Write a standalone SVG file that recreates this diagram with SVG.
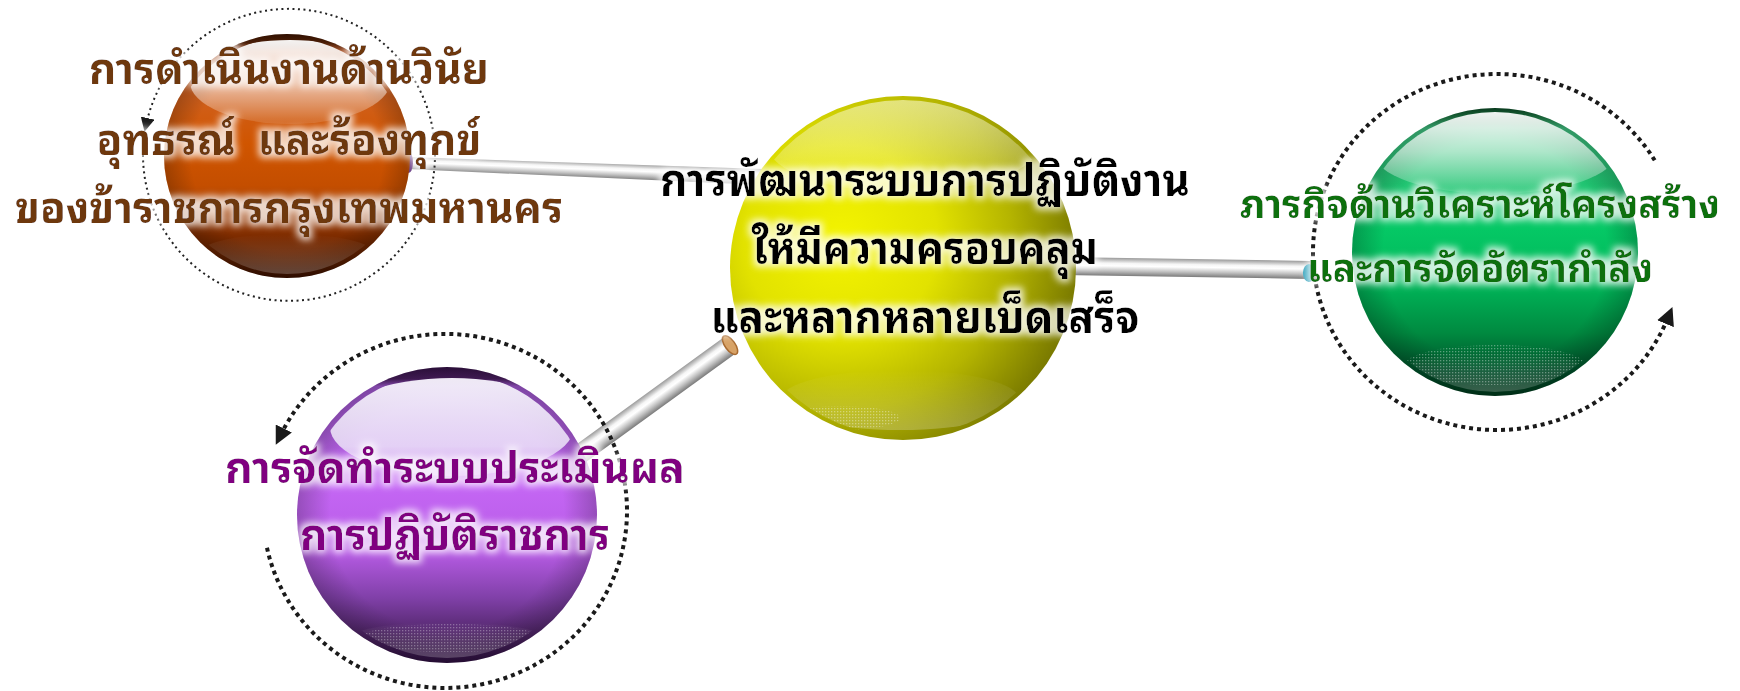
<svg xmlns="http://www.w3.org/2000/svg" width="1740" height="691" viewBox="0 0 1740 691">
<style>
.t{font-family:"Noto Sans Thai Looped","Noto Serif Thai","Noto Sans Thai","Noto Sans","DejaVu Sans",sans-serif;font-weight:bold;text-anchor:middle}
.tc{font-size:46px;fill:#000}
.to{font-size:43px;fill:#6E380C}
.tg{font-size:39px;fill:#0A700F}
.tp{font-size:43px;fill:#800080}
.dotf{fill:none;stroke:#222;stroke-width:2;stroke-dasharray:2 3.5}
.dotb{fill:none;stroke:#1a1a1a;stroke-width:4;stroke-dasharray:4 4}
</style>
<defs>
<marker id="arrS" viewBox="0 0 10 10" refX="3" refY="5" markerWidth="14" markerHeight="14" markerUnits="userSpaceOnUse" orient="auto"><path d="M0,0 L10,5 L0,10 z" fill="#1a1a1a"/></marker>
<marker id="arrL" viewBox="0 0 10 10" refX="3" refY="5" markerWidth="18" markerHeight="18" markerUnits="userSpaceOnUse" orient="auto"><path d="M0,0 L10,5 L0,10 z" fill="#1a1a1a"/></marker>
<filter id="glow" x="-10%" y="-40%" width="120%" height="180%">
<feMorphology in="SourceAlpha" operator="dilate" radius="3" result="d"/>
<feGaussianBlur in="d" stdDeviation="3.5" result="b"/>
<feFlood flood-color="#fff" flood-opacity="0.8"/>
<feComposite in2="b" operator="in" result="g"/>
<feMerge><feMergeNode in="g"/><feMergeNode in="SourceGraphic"/></feMerge>
</filter>
<clipPath id="cO"><ellipse cx="287" cy="156" rx="119" ry="118"/></clipPath>
<clipPath id="cY"><ellipse cx="903" cy="268" rx="169" ry="168"/></clipPath>
<clipPath id="cG"><ellipse cx="1495" cy="252" rx="139" ry="140"/></clipPath>
<clipPath id="cP"><ellipse cx="447" cy="515" rx="145" ry="143"/></clipPath>
<linearGradient id="tube" x1="0" y1="0" x2="0" y2="1">
<stop offset="0" stop-color="#9a9a9a"/><stop offset="0.3" stop-color="#f6f6f6"/><stop offset="0.45" stop-color="#fff"/><stop offset="0.72" stop-color="#c2c2c2"/><stop offset="1" stop-color="#7a7a7a"/>
</linearGradient>
<linearGradient id="hl" x1="0" y1="0" x2="0" y2="1">
<stop offset="0" stop-color="#fff" stop-opacity="0.95"/><stop offset="0.5" stop-color="#fff" stop-opacity="0.6"/><stop offset="1" stop-color="#fff" stop-opacity="0.1"/>
</linearGradient>
<linearGradient id="hlP" x1="0" y1="0" x2="0" y2="1">
<stop offset="0" stop-color="#f4f0fa" stop-opacity="0.97"/><stop offset="0.7" stop-color="#ece4f8" stop-opacity="0.85"/><stop offset="1" stop-color="#e6d8f6" stop-opacity="0.4"/>
</linearGradient>
<linearGradient id="hlY" x1="0" y1="0" x2="0" y2="1">
<stop offset="0" stop-color="#fafad0" stop-opacity="0.6"/><stop offset="1" stop-color="#fff" stop-opacity="0.05"/>
</linearGradient>
<radialGradient id="edge" cx="50%" cy="50%" r="50%">
<stop offset="0.78" stop-color="#000" stop-opacity="0"/><stop offset="1" stop-color="#000" stop-opacity="0.22"/>
</radialGradient>
<linearGradient id="oBase" x1="0" y1="0" x2="0" y2="1">
<stop offset="0" stop-color="#3E1400"/><stop offset="0.035" stop-color="#5A2408"/><stop offset="0.07" stop-color="#D06A38"/><stop offset="0.45" stop-color="#D05500"/><stop offset="0.62" stop-color="#C44E00"/><stop offset="0.8" stop-color="#883000"/><stop offset="0.93" stop-color="#5A1E00"/><stop offset="1" stop-color="#3A1000"/>
</linearGradient>
<radialGradient id="yBase" cx="32%" cy="42%" r="80%">
<stop offset="0" stop-color="#F4F400"/><stop offset="0.35" stop-color="#E2E200"/><stop offset="0.62" stop-color="#B4B400"/><stop offset="0.85" stop-color="#7E7E00"/><stop offset="1" stop-color="#5E5E00"/>
</radialGradient>
<linearGradient id="gBase" x1="0" y1="0" x2="0" y2="1">
<stop offset="0" stop-color="#0B4A25"/><stop offset="0.03" stop-color="#1F7A45"/><stop offset="0.07" stop-color="#40C080"/><stop offset="0.42" stop-color="#05C865"/><stop offset="0.6" stop-color="#00B85A"/><stop offset="0.78" stop-color="#008A40"/><stop offset="0.92" stop-color="#00502A"/><stop offset="1" stop-color="#003A1C"/>
</linearGradient>
<linearGradient id="pBase" x1="0" y1="0" x2="0" y2="1">
<stop offset="0" stop-color="#361248"/><stop offset="0.04" stop-color="#4A1E60"/><stop offset="0.065" stop-color="#A058D0"/><stop offset="0.4" stop-color="#C466F4"/><stop offset="0.62" stop-color="#B85CE6"/><stop offset="0.78" stop-color="#8040A8"/><stop offset="0.92" stop-color="#4A2260"/><stop offset="1" stop-color="#2E1040"/>
</linearGradient>
<linearGradient id="refl" x1="0" y1="0" x2="0" y2="1">
<stop offset="0" stop-color="#fff" stop-opacity="0"/><stop offset="1" stop-color="#fff" stop-opacity="0.22"/>
</linearGradient>
<pattern id="speck" width="3" height="3" patternUnits="userSpaceOnUse"><rect width="1.3" height="1.3" fill="#fff"/></pattern>
</defs>

<g id="connectors">
<g transform="translate(407,163) rotate(2.25)"><polygon points="0,-6 356,-8 356,8 0,6" fill="url(#tube)"/><ellipse cx="2" cy="0" rx="4" ry="10" fill="#6B3F86"/></g>
<g transform="translate(1062,266) rotate(0.92)"><rect x="0" y="-9" width="248" height="18" fill="url(#tube)"/><ellipse cx="247" cy="3" rx="6" ry="9" fill="#3BA7BF"/></g>
<g transform="translate(565,465) rotate(-36)"><rect x="0" y="-10" width="204" height="20" fill="url(#tube)"/><ellipse cx="204" cy="0" rx="5" ry="11" fill="#D7A266" stroke="#A86A30" stroke-width="1.5"/></g>
</g>

<g id="node-discipline">
<ellipse cx="287" cy="156" rx="123" ry="122" fill="url(#oBase)"/>
<ellipse cx="287" cy="156" rx="123" ry="122" fill="url(#edge)"/>
<g clip-path="url(#cO)">
<ellipse cx="290" cy="82" rx="100" ry="42" fill="url(#hl)"/>
<ellipse cx="287" cy="254" rx="88" ry="20" fill="url(#refl)"/>
</g>
<path class="dotf" d="M143,155 A146,146 0 1 0 146.7,122.2" marker-end="url(#arrS)"/>
<g filter="url(#glow)">
<text class="t to" x="289" y="84" textLength="400" lengthAdjust="spacingAndGlyphs">การดำเนินงานด้านวินัย</text>
<text class="t to" x="289" y="155" textLength="385" lengthAdjust="spacingAndGlyphs" xml:space="preserve">อุทธรณ์  และร้องทุกข์</text>
<text class="t to" x="289" y="223" textLength="548" lengthAdjust="spacingAndGlyphs">ของข้าราชการกรุงเทพมหานคร</text>
</g>
</g>

<g id="node-center">
<ellipse cx="903" cy="268" rx="173" ry="172" fill="url(#yBase)"/>
<g clip-path="url(#cY)">
<ellipse cx="903" cy="146" rx="135" ry="46" fill="url(#hlY)"/>
<ellipse cx="900" cy="400" rx="120" ry="30" fill="url(#refl)"/>
<ellipse cx="840" cy="418" rx="60" ry="12" fill="url(#speck)" opacity="0.35"/>
</g>
<g filter="url(#glow)">
<text class="t tc" x="925" y="196" textLength="530" lengthAdjust="spacingAndGlyphs">การพัฒนาระบบการปฏิบัติงาน</text>
<text class="t tc" x="925" y="264" textLength="346" lengthAdjust="spacingAndGlyphs">ให้มีความครอบคลุม</text>
<text class="t tc" x="925" y="333" textLength="429" lengthAdjust="spacingAndGlyphs">และหลากหลายเบ็ดเสร็จ</text>
</g>
</g>

<g id="node-structure">
<ellipse cx="1495" cy="252" rx="143" ry="144" fill="url(#gBase)"/>
<ellipse cx="1495" cy="252" rx="143" ry="144" fill="url(#edge)"/>
<g clip-path="url(#cG)">
<ellipse cx="1495" cy="152" rx="122" ry="42" fill="url(#hl)"/>
<ellipse cx="1495" cy="372" rx="95" ry="20" fill="url(#refl)"/>
<ellipse cx="1495" cy="365" rx="90" ry="20" fill="url(#speck)" opacity="0.35"/>
</g>
<path class="dotb" d="M1654.7,160.3 A184,178 0 1 0 1667.6,318.7" marker-end="url(#arrL)"/>
<g filter="url(#glow)">
<text class="t tg" x="1480" y="218" textLength="480" lengthAdjust="spacingAndGlyphs">ภารกิจด้านวิเคราะห์โครงสร้าง</text>
<text class="t tg" x="1480" y="282" textLength="346" lengthAdjust="spacingAndGlyphs">และการจัดอัตรากำลัง</text>
</g>
</g>

<g id="node-evaluation">
<ellipse cx="447" cy="515" rx="150" ry="148" fill="url(#pBase)"/>
<ellipse cx="447" cy="515" rx="150" ry="148" fill="url(#edge)"/>
<g clip-path="url(#cP)">
<ellipse cx="452" cy="427" rx="122" ry="49" fill="url(#hlP)"/>
<ellipse cx="447" cy="640" rx="100" ry="18" fill="url(#refl)"/>
<ellipse cx="450" cy="638" rx="90" ry="14" fill="url(#speck)" opacity="0.3"/>
</g>
<path class="dotb" d="M267,547.8 A182,177 0 1 0 281.4,433.4" marker-end="url(#arrL)"/>
<g filter="url(#glow)">
<text class="t tp" x="455" y="483" textLength="460" lengthAdjust="spacingAndGlyphs">การจัดทำระบบประเมินผล</text>
<text class="t tp" x="455" y="550" textLength="310" lengthAdjust="spacingAndGlyphs">การปฏิบัติราชการ</text>
</g>
</g>
</svg>
